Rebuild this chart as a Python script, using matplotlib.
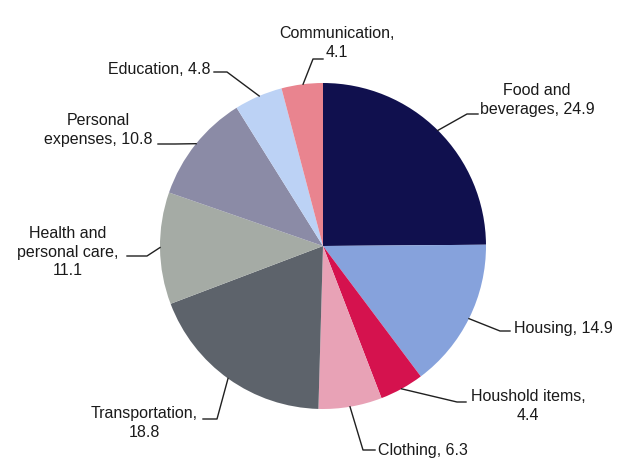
import numpy as np
import matplotlib.pyplot as plt

plt.rcParams["font.family"] = ["Liberation Sans", "DejaVu Sans"]

# Доли расходов, % (по часовой стрелке от вершины)
categories = ["Food and\nbeverages", "Housing", "Houshold items", "Clothing",
              "Transportation", "Health and\npersonal care", "Personal\nexpenses",
              "Education", "Communication"]
values = [24.9, 14.9, 4.4, 6.3, 18.8, 11.1, 10.8, 4.8, 4.1]
colors = ["#10104e", "#86a2dc", "#d5124e", "#e8a2b6", "#5d636b",
          "#a5aba5", "#8b8ba6", "#bcd2f5", "#e9848f"]

# Подписи: текст, положение текста, излом выноски, конец выноски (пиксели)
labels = [
    ("Food and\nbeverages, 24.9", (537, 100), "center", (467, 115), (478, 115)),
    ("Housing, 14.9", (514, 329), "left", (500, 332), (510, 332)),
    ("Houshold items,\n4.4", (528, 406), "center", (457, 403), (466, 403)),
    ("Clothing, 6.3", (378, 451), "left", (363, 451), (375, 451)),
    ("Transportation,\n18.8", (144, 423), "center", (217, 420), (203, 420)),
    ("Health and\npersonal care,\n11.1", (68, 252), "center", (147, 257), (127, 257)),
    ("Personal\nexpenses, 10.8", (98, 130), "center", (175, 145), (158, 145)),
    ("Education, 4.8", (159, 69), "center", (227, 73), (214, 73)),
    ("Communication,\n4.1", (337, 43), "center", (313, 60), (323, 60)),
]

W, H = 626, 464
cx, cy, r = 323, 247, 163

fig = plt.figure(figsize=(W / 100, H / 100), dpi=100)
ax = fig.add_axes([0, 0, 1, 1])
ax.pie(values, colors=colors, startangle=90, counterclock=False,
       center=(cx, H - cy), radius=r, wedgeprops=dict(linewidth=0))
ax.set_xlim(0, W)
ax.set_ylim(0, H)
ax.set_aspect("equal")
ax.axis("off")

# Выноски от середины дуги каждого сектора
start = 90.0
for val, (txt, (tx, ty), ha, (kx, ky), (ex, ey)) in zip(values, labels):
    mid = np.radians(start - val * 3.6 / 2)
    start -= val * 3.6
    px = cx + r * np.cos(mid)
    py = (H - cy) + r * np.sin(mid)
    ax.plot([px, kx, ex], [py, H - ky, H - ey], color="#202020", lw=1)
    ax.text(tx, H - ty, txt, ha=ha, va="center", fontsize=11.5,
            color="#1a1a1a", linespacing=1.3)

fig.savefig("out.png", dpi=100)
